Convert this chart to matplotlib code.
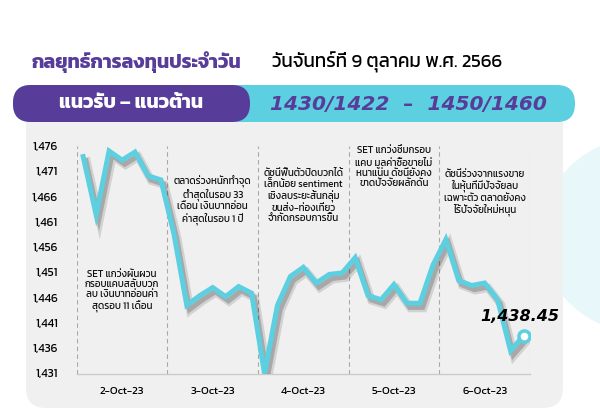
import matplotlib
matplotlib.use("Agg")
import matplotlib.pyplot as plt
import matplotlib.patches as patches
import matplotlib.patheffects as pe
from matplotlib import font_manager
from matplotlib.ft2font import FT2Font
from matplotlib.ticker import FuncFormatter

# SET index, 7 readings per trading day
days = ["2-Oct-23", "3-Oct-23", "4-Oct-23", "5-Oct-23", "6-Oct-23"]
points_per_day = 7
set_index = [
    1473.9, 1462.4, 1475.0, 1473.2, 1474.8, 1470.1, 1469.3,
    1458.7, 1444.5, 1446.4, 1448.0, 1446.2, 1448.2, 1446.9,
    1431.0, 1444.5, 1450.2, 1452.0, 1448.9, 1450.6, 1450.9,
    1453.9, 1446.4, 1445.6, 1448.6, 1444.9, 1444.9, 1452.4,
    1457.5, 1449.4, 1448.4, 1448.9, 1445.6, 1435.5, 1438.45,
]
y_ticks = [1431, 1436, 1441, 1446, 1451, 1456, 1461, 1466, 1471, 1476]

notes = [
    "SET แกว่งผันผวน\nกรอบแคบสลับบวก\nลบ เงินบาทอ่อนค่า\nสุดรอบ 11 เดือน",
    "ตลาดร่วงหนักทำจุด\nต่ำสุดในรอบ 33\nเดือน เงินบาทอ่อน\nค่าสุดในรอบ 1 ปี",
    "ดัชนีฟื้นตัวปิดบวกได้\nเล็กน้อย sentiment\nเชิงลบระยะสั้นกลุ่ม\nขนส่ง-ท่องเที่ยว\nจำกัดกรอบการขึ้น",
    "SET แกว่งซึมกรอบ\nแคบ มูลค่าซื้อขายไม่\nหนาแน่น ดัชนียังคง\nขาดปัจจัยผลักดัน",
    "ดัชนีร่วงจากแรงขาย\nในหุ้นที่มีปัจจัยลบ\nเฉพาะตัว ตลาดยังคง\nไร้ปัจจัยใหม่หนุน",
]

title = "กลยุทธ์การลงทุนประจำวัน"
date_text = "วันจันทร์ที่ 9 ตุลาคม พ.ศ. 2566"
banner_left = "แนวรับ – แนวต้าน"
banner_right = "1430/1422  –  1450/1460"
last_label = "1,438.45"

PURPLE = "#573d99"
CYAN = "#5ccfe0"
PANEL = "#f0f0f0"


def pick_thai_font(preferred="Kanit"):
    # first font that really has Thai glyphs, Kanit if it is there
    names = set()
    for f in font_manager.fontManager.ttflist:
        try:
            if 0x0E01 in FT2Font(f.fname).get_charmap():
                names.add(f.name)
        except Exception:
            pass
    if preferred in names:
        return preferred
    return sorted(names)[0] if names else "DejaVu Sans"


thai = pick_thai_font()
plt.rcParams["font.family"] = [thai, "DejaVu Sans"]

fig = plt.figure(figsize=(6, 4.2), dpi=100)
fig.patch.set_facecolor("white")

# background decorations in pixel coords (y downwards)
bg = fig.add_axes([0, 0, 1, 1])
bg.set_xlim(0, 600)
bg.set_ylim(420, 0)
bg.axis("off")
bg.add_patch(patches.Ellipse((650, 235), 220, 200, color="#e8f7fa", lw=0))
bg.add_patch(patches.FancyBboxPatch((26, 100), 537, 308, boxstyle="round,pad=0,rounding_size=20",
                                    fc=PANEL, ec="none"))
bg.add_patch(patches.FancyBboxPatch((13, 85), 562, 37, boxstyle="round,pad=0,rounding_size=18",
                                    fc=CYAN, ec="none"))
bg.add_patch(patches.FancyBboxPatch((13, 85), 237, 37, boxstyle="round,pad=0,rounding_size=18",
                                    fc=PURPLE, ec="none"))
bg.text(32, 62, title, color=PURPLE, fontsize=14, fontweight="bold", va="center", ha="left")
bg.text(272, 62, date_text, color="black", fontsize=13.5, va="center", ha="left")
bg.text(131, 104, banner_left, color="white", fontsize=14, fontweight="bold", va="center", ha="center")
bg.text(408, 104, banner_right, color=PURPLE, fontsize=14.5, fontweight="bold", style="italic",
        va="center", ha="center", family="DejaVu Sans")

# chart
ax = fig.add_axes([76.7 / 600, 46.5 / 420, 453.3 / 600, 227.5 / 420])
ax.set_facecolor("none")
n = len(set_index)
x = list(range(n))
ax.set_xlim(-0.5, n - 0.5)
ax.set_ylim(1431, 1476)

for k in range(len(days) + 1):
    ax.axvline(k * points_per_day - 0.5, color="#a8a8a8", lw=0.8, ls=(0, (4, 3)), zorder=1)

line, = ax.plot(x, set_index, color=CYAN, lw=3.6, solid_joinstyle="miter", zorder=3, clip_on=True)
line.set_path_effects([
    pe.SimpleLineShadow(offset=(2.5, -3.5), shadow_color="black", alpha=0.12, linewidth=6),
    pe.SimpleLineShadow(offset=(2, -3), shadow_color="black", alpha=0.2),
    pe.Normal(),
])
ax.plot(x[-1], set_index[-1], "o", ms=8, mfc="white", mec=CYAN, mew=2.5, zorder=4)
ax.text(x[-1] - 0.3, set_index[-1] + 3.8, last_label, fontsize=11.5, fontweight="bold", style="italic",
        ha="center", va="center", family="DejaVu Sans")

centers = [d * points_per_day + 3 for d in range(len(days))]
note_y = [1447.2, 1465.4, 1466.1, 1471.9, 1466.7]
for cx, cy, note in zip(centers, note_y, notes):
    ax.text(cx, cy, note, fontsize=7, color="#111111", ha="center", va="center", linespacing=1.15)

ax.set_xticks(centers)
ax.set_xticklabels(days, fontsize=8)
ax.set_yticks(y_ticks)
ax.yaxis.set_major_formatter(FuncFormatter(lambda v, p: f"{v:,.0f}"))
ax.tick_params(axis="y", labelsize=8.5, length=0, pad=13.5)
ax.tick_params(axis="x", length=0, pad=10)
for s in ["left", "right", "top"]:
    ax.spines[s].set_visible(False)
ax.spines["bottom"].set_color("#cccccc")
ax.spines["bottom"].set_linewidth(1)

fig.savefig("out.png", dpi=100, facecolor="white")
